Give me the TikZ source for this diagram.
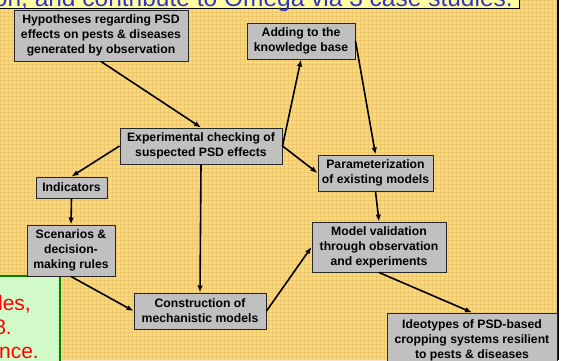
\documentclass[tikz,border=0pt]{standalone}
\usepackage{fontspec}
\setmainfont{Liberation Sans}
\usetikzlibrary{arrows.meta}

\definecolor{slidebg}{RGB}{245,218,128}
\definecolor{slidegrid}{RGB}{226,160,70}
\definecolor{boxgray}{RGB}{192,192,192}
\definecolor{bannerbg}{RGB}{255,255,160}
\definecolor{titleblue}{RGB}{51,51,204}
\definecolor{notegreen}{RGB}{210,250,200}
\definecolor{noteborder}{RGB}{0,128,0}

\tikzset{
  stepbox/.style={draw=black!85, fill=boxgray, line width=1pt, align=center,
    inner sep=2pt, font=\fontsize{12.2}{15}\selectfont\bfseries},
  flow/.style={line width=1.6pt, -{Latex[length=7pt,width=5.5pt]}},
  notetext/.style={anchor=base east, text=red, inner sep=0pt,
    font=\fontsize{21}{24}\selectfont},
}

\begin{document}
\begin{tikzpicture}[x=1pt,y=-1pt]
  \useasboundingbox (0,0) rectangle (565,360);
  \clip (0,0) rectangle (565,360);

  % slide background
  \fill[slidebg] (0,0) rectangle (557,360);
  \draw[slidegrid, line width=0.4pt, opacity=0.3, step=4pt] (0,0) grid (557,360);
  \draw[line width=1.5pt] (558,0) -- (558,360);

  % title banner, cut off
  \fill[bannerbg] (0,0) rectangle (519,8);
  \draw[line width=0.8pt] (0,8) -- (519,8) -- (519,0);
  \node[anchor=base east, text=titleblue, inner sep=0pt,
    font=\fontsize{24.5}{28}\selectfont] (title) at (513,6.5)
    {on, and contribute to Omega via 3 case studies.};

  % side note, cut off
  \draw[noteborder, fill=notegreen, line width=1.5pt] (-5,276) rectangle (60,370);
  \node[notetext] (note1) at (31,310) {lles,};
  \node[notetext] (note2) at (12,334) {8.};
  \node[notetext] (note3) at (39,358) {ance.};

  \node[stepbox, minimum width=174pt, minimum height=51pt] (hyp) at (101,35.5)
    {Hypotheses regarding PSD\\effects on pests \& diseases\\generated by observation};
  \node[stepbox, minimum width=108pt, minimum height=36pt] (add) at (301,41)
    {Adding to the\\knowledge base};
  \node[stepbox, minimum width=162pt, minimum height=36pt] (exp) at (201,146)
    {Experimental checking of\\suspected PSD effects};
  \node[stepbox, minimum width=71pt, minimum height=21pt] (ind) at (71.5,187.5)
    {Indicators};
  \node[stepbox, minimum width=88pt, minimum height=51pt] (scen) at (71,250.5)
    {Scenarios \&\\decision-\\making rules};
  \node[stepbox, minimum width=132pt, minimum height=36pt] (cons) at (200,311)
    {Construction of\\mechanistic models};
  \node[stepbox, minimum width=115pt, minimum height=36pt] (param) at (375.5,173)
    {Parameterization\\of existing models};
  \node[stepbox, minimum width=134pt, minimum height=50pt] (model) at (379,247)
    {Model validation\\through observation\\and experiments};
  \node[stepbox, minimum width=170pt, minimum height=54pt] (ideo) at (472,340)
    {Ideotypes of PSD-based\\cropping systems resilient\\to pests \& diseases};

  \draw[flow] (hyp.south) -- (exp.north);
  \draw[flow] (exp.east) -- (add.south);
  \draw[flow] (add.east) -- (param.north);
  \draw[flow] (exp.east) -- (param.west);
  \draw[flow] (exp.west) -- (ind.north);
  \draw[flow] (ind.south) -- (scen.north);
  \draw[flow] (exp.south) -- (cons.north);
  \draw[flow] (scen.south) -- (cons.west);
  \draw[flow] (cons.east) -- (model.west);
  \draw[flow] (param.south) -- (model.north);
  \draw[flow] (model.south) -- (ideo.north);
\end{tikzpicture}
\end{document}
